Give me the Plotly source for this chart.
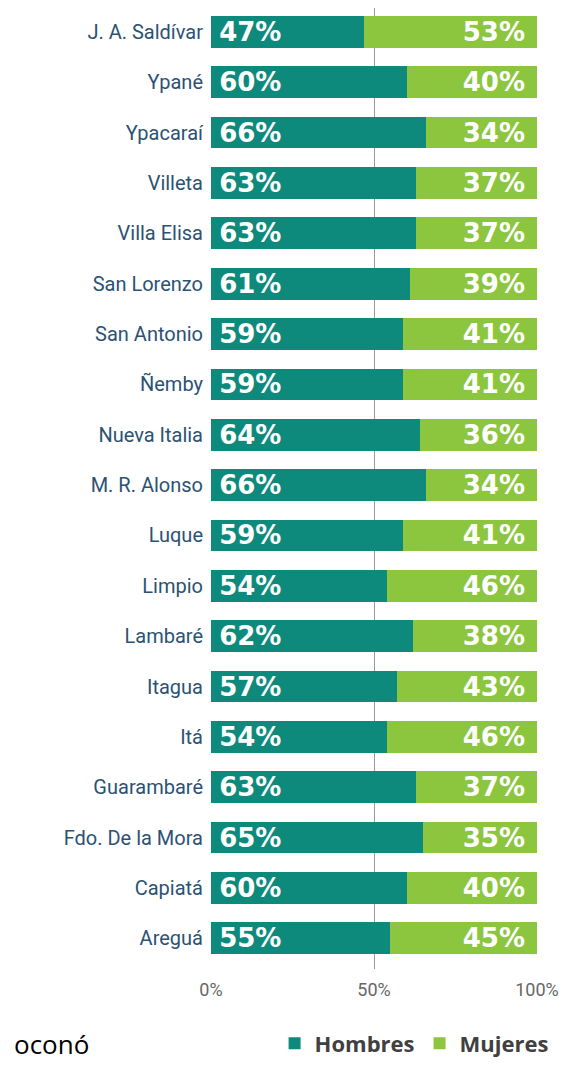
import plotly.graph_objs as go

# municipios, top to bottom as in the original chart
municipios = ['J. A. Saldívar', 'Ypané', 'Ypacaraí', 'Villeta', 'Villa Elisa',
              'San Lorenzo', 'San Antonio', 'Ñemby', 'Nueva Italia', 'M. R. Alonso',
              'Luque', 'Limpio', 'Lambaré', 'Itagua', 'Itá', 'Guarambaré',
              'Fdo. De la Mora', 'Capiatá', 'Areguá']
hombres = [47, 60, 66, 63, 63, 61, 59, 59, 64, 66, 59, 54, 62, 57, 54, 63, 65, 60, 55]
mujeres = [53, 40, 34, 37, 37, 39, 41, 41, 36, 34, 41, 46, 38, 43, 46, 37, 35, 40, 45]
tick_vals = [0, 50, 100]
tick_text = ['0%', '50%', '100%']

bar_font = dict(family='DejaVu Sans', size=26, color='white', weight='bold')

trace1 = go.Bar(
    y=municipios, x=hombres, orientation='h', name='Hombres',
    marker=dict(color='#0e8a7c', line=dict(width=0)),
    text=['\u2009%d%%' % v for v in hombres], textposition='inside',
    insidetextanchor='start', constraintext='none',
    textfont=bar_font, hoverinfo='skip'
)
trace2 = go.Bar(
    y=municipios, x=mujeres, orientation='h', name='Mujeres',
    marker=dict(color='#8cc63f', line=dict(width=0)),
    text=['%d%% ' % v for v in mujeres], textposition='inside',
    insidetextanchor='end', constraintext='none',
    textfont=bar_font, hoverinfo='skip'
)

# the page adds an 8px body margin, so the figure is drawn 8px smaller
layout = go.Layout(
    width=571, height=1057,
    barmode='stack', bargap=0.37,
    plot_bgcolor='white', paper_bgcolor='white',
    margin=dict(l=203, r=42, t=0, b=90),
    font=dict(family='Roboto, sans-serif'),
    xaxis=dict(range=[0, 100], tickvals=tick_vals, ticktext=tick_text,
               showgrid=True, gridcolor='#9a9a9a', gridwidth=1,
               zeroline=False, showline=False,
               tickfont=dict(size=18, color='#666666'), ticklabelstandoff=8),
    yaxis=dict(type='category', categoryorder='array', categoryarray=municipios,
               range=[18.61, -0.474], showgrid=False, zeroline=False,
               tickfont=dict(size=20, color='#2c5273'), ticklabelstandoff=7),
    showlegend=True,
    legend=dict(orientation='h', x=0.623, xanchor='center', y=-0.0776, yanchor='middle',
                font=dict(family='Open Sans', size=22, color='#404040', weight='bold'),
                itemwidth=30, traceorder='normal'),
    annotations=[dict(text='oconó', xref='paper', yref='paper', x=-0.61, xanchor='left',
                      y=-0.0776, yanchor='middle', showarrow=False,
                      font=dict(family='Open Sans', size=26, color='black'))]
)

fig = go.Figure(data=[trace1, trace2], layout=layout)
fig.write_html('out.html')
